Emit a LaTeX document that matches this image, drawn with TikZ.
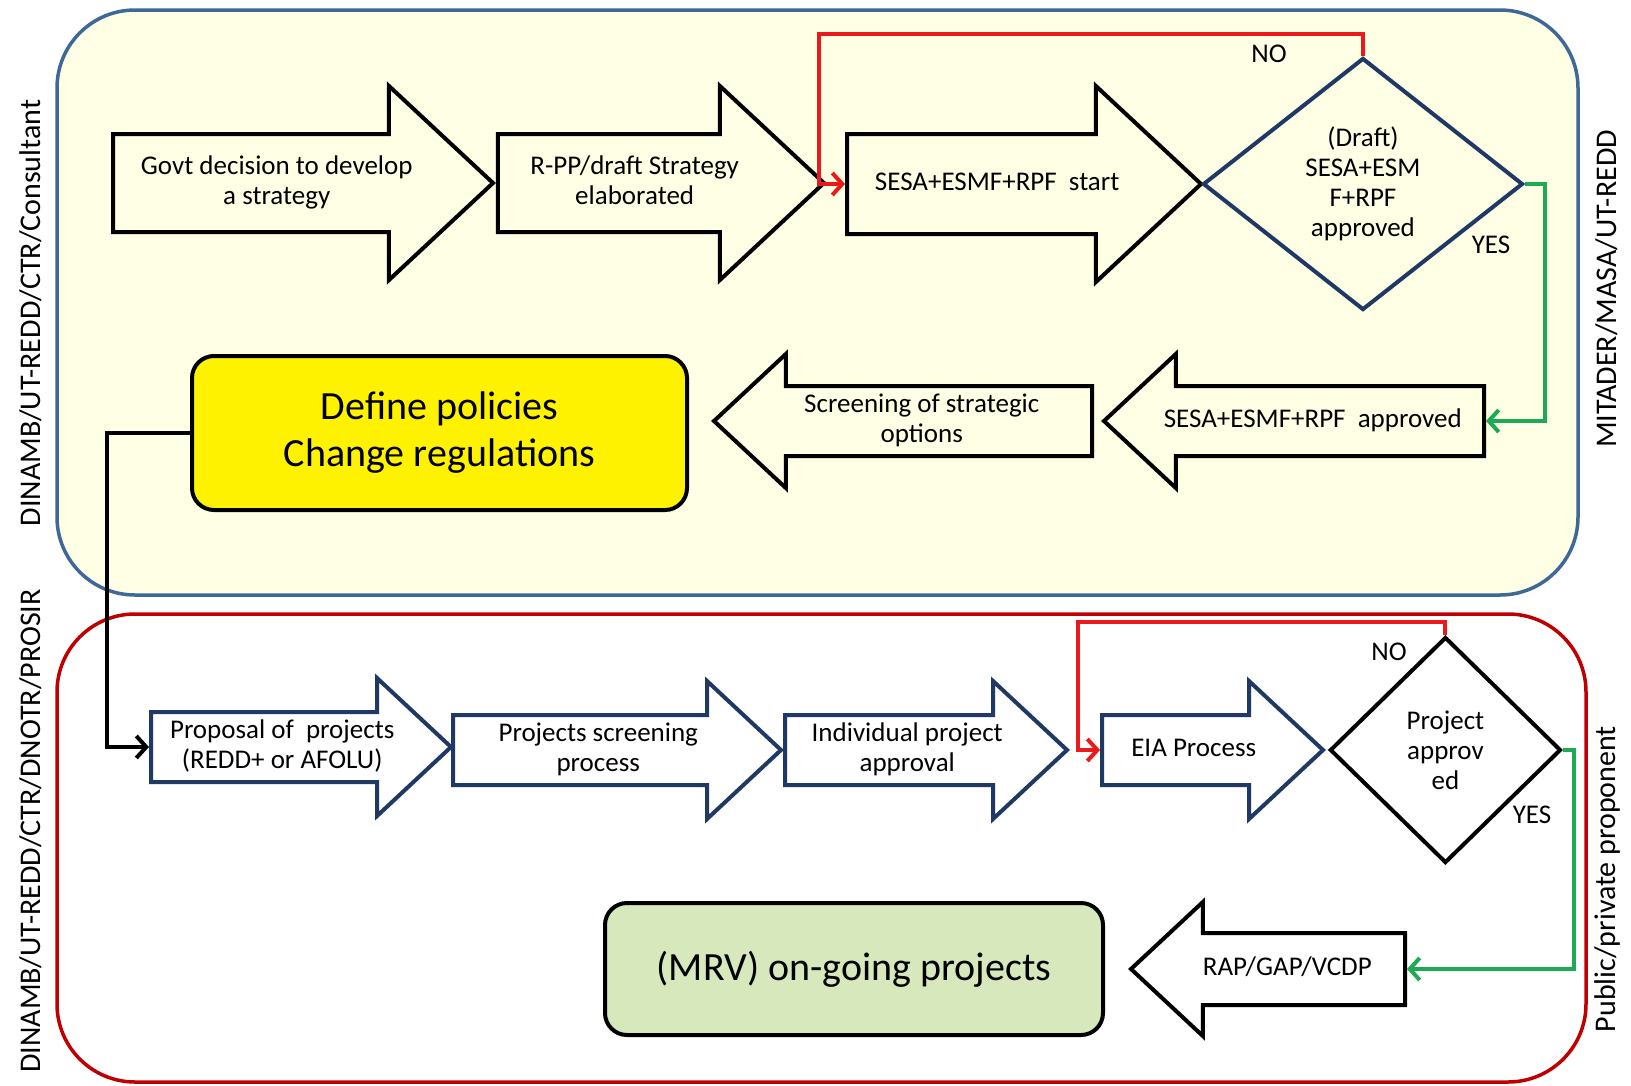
\documentclass[tikz,border=0pt]{standalone}
\usepackage{fontspec}
\setmainfont{Carlito}
\usetikzlibrary{shapes.arrows,shapes.geometric,arrows.meta,positioning}
\definecolor{paleyellow}{RGB}{255,255,230}
\definecolor{laneblue}{RGB}{62,104,150}
\definecolor{lanered}{RGB}{192,0,0}
\definecolor{navy}{RGB}{31,56,100}
\definecolor{noRed}{RGB}{235,25,25}
\definecolor{yesGreen}{RGB}{30,170,85}
\definecolor{mrvgreen}{RGB}{215,232,188}
\newcommand{\armtext}[2]{\vbox to #1{\vss\hbox{\begin{tabular}{@{}c@{}}#2\end{tabular}}\vss}}
\tikzset{
  txt/.style={font=\fontsize{27}{30}\selectfont, align=center},
  lanetxt/.style={font=\fontsize{30}{34}\selectfont, rotate=90},
  rarrow/.style={single arrow, draw, line width=4pt, single arrow tip angle=86,
    inner sep=0pt, anchor=tail, font=\fontsize{27}{30}\selectfont},
  larrow/.style={rarrow, shape border rotate=180},
  toprow/.style={fill=paleyellow, single arrow head extend=48},
  midrow/.style={fill=paleyellow, single arrow head extend=32},
  botrow/.style={fill=white, draw=navy, single arrow head extend=34},
  ask/.style={diamond, line width=4pt, inner sep=0pt, txt, anchor=west},
  bigbox/.style={rounded corners=22, draw, line width=4pt, minimum width=495,
    minimum height=154, font=\fontsize{40}{47}\selectfont, align=center},
  noline/.style={noRed, line width=4pt, -{Straight Barb[length=10pt,width=22pt]}},
  yesline/.style={yesGreen, line width=4pt, -{Straight Barb[length=10pt,width=22pt]}},
  flowline/.style={line width=4pt, -{Straight Barb[length=10pt,width=22pt]}}
}
\begin{document}
\begin{tikzpicture}[x=1pt, y=-1pt]
\useasboundingbox (0,0) rectangle (1631,1085);
\draw[laneblue, fill=paleyellow, line width=3.5pt, rounded corners=78] (57,10) rectangle (1578,595);
\draw[lanered, fill=white, line width=3.5pt, rounded corners=78] (57,614) rectangle (1586,1082);

\node[lanetxt] (laneA) at (31,313) {DINAMB/UT-REDD/CTR/Consultant};
\node[lanetxt] (laneB) at (31,831) {DINAMB/UT-REDD/CTR/DNOTR/PROSIR};
\node[lanetxt] (laneC) at (1607,289) {MITADER/MASA/UT-REDD};
\node[lanetxt] (laneD) at (1607,879) {Public/private proponent};

\node[rarrow, toprow, minimum height=380] (govt) at (111,183) {\armtext{94pt}{Govt decision to develop\\a strategy}};
\node[rarrow, toprow, minimum height=326] (rpp) at (govt.tip) {\armtext{94pt}{R-PP/draft Strategy\\elaborated}};
\node[rarrow, toprow, minimum height=354] (sesa) at (845,184) {\armtext{96pt}{SESA+ESMF+RPF\ \ start}};
\node[ask, draw=navy, fill=paleyellow, minimum width=320, minimum height=252, right=-3pt of sesa.tip] (draft)
  {(Draft)\\SESA+ESM\\F+RPF\\approved};

\node[larrow, midrow, minimum height=380] (appr) at (1486,421) {\armtext{66pt}{SESA+ESMF+RPF\ \ approved}};
\node[larrow, midrow, minimum height=378] (screen) at (1094,421) {\armtext{66pt}{Screening of strategic\\options}};
\node[bigbox, fill=yellow] (policy) at (439.5,433) {Define policies\\Change regulations};

\node[rarrow, botrow, minimum height=300] (prop) at (149,747) {\armtext{66pt}{Proposal of\ \ projects\\(REDD+ or AFOLU)}};
\node[rarrow, botrow, minimum height=328] (scr) at (451,750) {\armtext{66pt}{Projects screening\\process}};
\node[rarrow, botrow, minimum height=282] (indiv) at (783,750) {\armtext{66pt}{Individual project\\approval}};
\node[rarrow, botrow, minimum height=221] (eia) at (1100,750) {\armtext{66pt}{EIA Process}};
\node[ask, draw, fill=white, minimum width=231, minimum height=226, right=2pt of eia.tip] (projok)
  {Project\\approv\\ed};

\node[larrow, fill=white, single arrow head extend=31, minimum height=274] (rap) at (1407,969) {\armtext{68pt}{RAP/GAP/VCDP}};
\node[bigbox, fill=mrvgreen, minimum width=498, minimum height=132] (mrv) at (854,969) {(MRV) on-going projects};

\coordinate (noturnA) at (819,34);
\coordinate (noturnB) at (1078,622);
\draw[noline] (draft.north) |- (noturnA) |- (sesa.tail);
\draw[yesline] (draft.east) -- ++(20,0) |- (appr.tail);
\draw[noline] (projok.north) |- (noturnB) |- (eia.tail);
\draw[yesline] (projok.east) -- ++(11,0) |- (rap.tail);
\draw[flowline] (policy.west) -- ++(-83,0) |- (prop.tail);

\node[txt] (noA) at (1269,54) {NO};
\node[txt] (yesA) at (1491,245) {YES};
\node[txt] (noB) at (1389,652) {NO};
\node[txt] (yesB) at (1532,815) {YES};
\end{tikzpicture}
\end{document}
